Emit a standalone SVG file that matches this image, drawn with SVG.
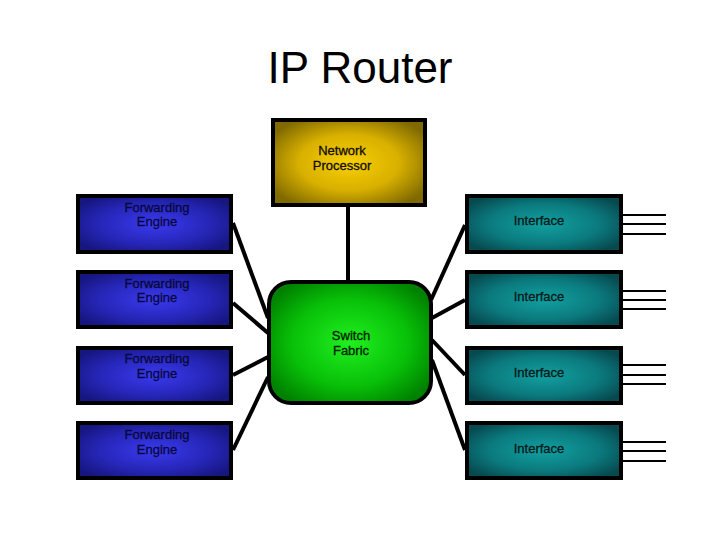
<svg xmlns="http://www.w3.org/2000/svg" width="720" height="540" viewBox="0 0 720 540">
<defs>
<radialGradient id="gNP" cx="0.5" cy="0.5" r="0.6">
<stop offset="0" stop-color="#f8d000"/><stop offset="0.55" stop-color="#d8b000"/><stop offset="1" stop-color="#806a00"/>
</radialGradient>
<radialGradient id="gFE" cx="0.5" cy="0.5" r="0.6">
<stop offset="0" stop-color="#3a3af0"/><stop offset="0.6" stop-color="#2626b8"/><stop offset="1" stop-color="#161680"/>
</radialGradient>
<radialGradient id="gIF" cx="0.5" cy="0.5" r="0.6">
<stop offset="0" stop-color="#12a0a0"/><stop offset="0.6" stop-color="#0b7a7e"/><stop offset="1" stop-color="#064a50"/>
</radialGradient>
<radialGradient id="gSF" cx="0.5" cy="0.5" r="0.6">
<stop offset="0" stop-color="#20f020"/><stop offset="0.6" stop-color="#08c008"/><stop offset="1" stop-color="#008000"/>
</radialGradient>
</defs>
<style>
.box{stroke:#000;stroke-width:4}
.lbl{font-family:"Liberation Sans",Arial,sans-serif;font-size:13px;text-anchor:middle;stroke-width:0.3}
.conn line{stroke:#000;stroke-width:4}
.wire line{stroke:#000;stroke-width:2}
</style>
<text x="360" y="83" font-family="Liberation Sans, Arial, sans-serif" font-size="44" text-anchor="middle" fill="#000">IP Router</text>
<g id="connectors" class="conn">
<line x1="348" y1="206" x2="348" y2="281"/>
<line x1="233" y1="223" x2="268" y2="318"/>
<line x1="233" y1="303" x2="268" y2="333"/>
<line x1="233" y1="375" x2="268" y2="357"/>
<line x1="233" y1="450" x2="268" y2="377"/>
<line x1="465" y1="225" x2="431" y2="300"/>
<line x1="465" y1="300" x2="432" y2="318"/>
<line x1="465" y1="375" x2="432" y2="340"/>
<line x1="465" y1="450" x2="432" y2="360"/>
</g>
<g id="wires" class="wire">
<line x1="623" y1="215" x2="666" y2="215"/><line x1="623" y1="224" x2="666" y2="224"/><line x1="623" y1="234" x2="666" y2="234"/>
<line x1="623" y1="291" x2="666" y2="291"/><line x1="623" y1="300" x2="666" y2="300"/><line x1="623" y1="309" x2="666" y2="309"/>
<line x1="623" y1="365" x2="666" y2="365"/><line x1="623" y1="375" x2="666" y2="375"/><line x1="623" y1="384" x2="666" y2="384"/>
<line x1="623" y1="442" x2="666" y2="442"/><line x1="623" y1="451" x2="666" y2="451"/><line x1="623" y1="461" x2="666" y2="461"/>
</g>
<g id="network-processor">
<rect class="box" x="273" y="120" width="152" height="85" fill="url(#gNP)"/>
<text class="lbl" x="342" y="155" fill="#100c00" stroke="#100c00">Network</text>
<text class="lbl" x="342" y="170" fill="#100c00" stroke="#100c00">Processor</text>
</g>
<g id="switch-fabric">
<rect class="box" x="269" y="282" width="162" height="121" rx="22" ry="22" fill="url(#gSF)"/>
<text class="lbl" x="351" y="340" fill="#002000" stroke="#002000">Switch</text>
<text class="lbl" x="351" y="355" fill="#002000" stroke="#002000">Fabric</text>
</g>
<g id="fe1">
<rect class="box" x="78" y="196" width="153" height="56" fill="url(#gFE)"/>
<text class="lbl" x="157" y="212" fill="#08083a" stroke="#08083a">Forwarding</text>
<text class="lbl" x="157" y="226" fill="#08083a" stroke="#08083a">Engine</text>
</g>
<g id="fe2">
<rect class="box" x="78" y="272" width="153" height="55" fill="url(#gFE)"/>
<text class="lbl" x="157" y="288" fill="#08083a" stroke="#08083a">Forwarding</text>
<text class="lbl" x="157" y="302" fill="#08083a" stroke="#08083a">Engine</text>
</g>
<g id="fe3">
<rect class="box" x="78" y="348" width="153" height="55" fill="url(#gFE)"/>
<text class="lbl" x="157" y="363" fill="#08083a" stroke="#08083a">Forwarding</text>
<text class="lbl" x="157" y="378" fill="#08083a" stroke="#08083a">Engine</text>
</g>
<g id="fe4">
<rect class="box" x="78" y="423" width="153" height="55" fill="url(#gFE)"/>
<text class="lbl" x="157" y="439" fill="#08083a" stroke="#08083a">Forwarding</text>
<text class="lbl" x="157" y="454" fill="#08083a" stroke="#08083a">Engine</text>
</g>
<g id="if1">
<rect class="box" x="467" y="196" width="154" height="56" fill="url(#gIF)"/>
<text class="lbl" x="539" y="225" fill="#061818" stroke="#061818">Interface</text>
</g>
<g id="if2">
<rect class="box" x="467" y="272" width="154" height="55" fill="url(#gIF)"/>
<text class="lbl" x="539" y="301" fill="#061818" stroke="#061818">Interface</text>
</g>
<g id="if3">
<rect class="box" x="467" y="348" width="154" height="55" fill="url(#gIF)"/>
<text class="lbl" x="539" y="377" fill="#061818" stroke="#061818">Interface</text>
</g>
<g id="if4">
<rect class="box" x="467" y="423" width="154" height="55" fill="url(#gIF)"/>
<text class="lbl" x="539" y="453" fill="#061818" stroke="#061818">Interface</text>
</g>
</svg>
